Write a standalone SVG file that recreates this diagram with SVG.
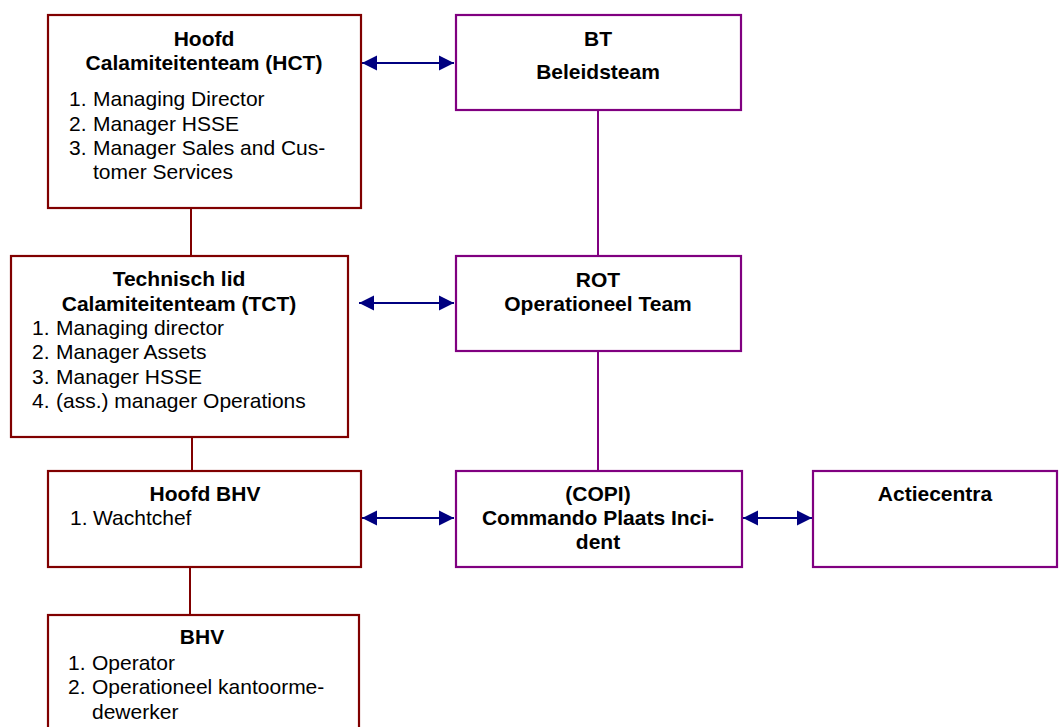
<svg xmlns="http://www.w3.org/2000/svg" width="1059" height="727" viewBox="0 0 1059 727">
<defs>
<marker id="ah" viewBox="0 0 10 10" refX="10" refY="5" markerWidth="7" markerHeight="7" markerUnits="strokeWidth" orient="auto-start-reverse" preserveAspectRatio="none">
<path d="M0,0 L10,5 L0,10 z" fill="#000080"/>
</marker>
</defs>
<style>
.r{fill:#fff;stroke:#800000;stroke-width:2.2}
.p{fill:#fff;stroke:#800080;stroke-width:2.2}
.lr{stroke:#800000;stroke-width:2;fill:none}
.lp{stroke:#800080;stroke-width:2;fill:none}
.ar{stroke:#000080;stroke-width:2.2;fill:none;marker-start:url(#ah);marker-end:url(#ah)}
text{font-family:"Liberation Sans",Arial,sans-serif;font-size:21px;fill:#000}
.b{font-weight:bold;text-anchor:middle}
</style>
<rect width="1059" height="727" fill="#fff"/>
<g id="connectors">
<line class="lr" x1="191" y1="208" x2="191" y2="256"/>
<line class="lr" x1="192" y1="437" x2="192" y2="471"/>
<line class="lr" x1="190" y1="567" x2="190" y2="615"/>
<line class="lp" x1="598" y1="110" x2="598" y2="256"/>
<line class="lp" x1="598" y1="351" x2="598" y2="471"/>
<line class="ar" x1="362" y1="63" x2="454" y2="63"/>
<line class="ar" x1="359" y1="303" x2="454" y2="303"/>
<line class="ar" x1="362" y1="518" x2="454" y2="518"/>
<line class="ar" x1="743" y1="518" x2="812" y2="518"/>
</g>
<g id="hct">
<rect class="r" x="48" y="15" width="313" height="193"/>
<text class="b" x="204" y="46">Hoofd</text>
<text class="b" x="204" y="70">Calamiteitenteam (HCT)</text>
<text x="69" y="106">1.</text><text x="93" y="106">Managing Director</text>
<text x="69" y="131">2.</text><text x="93" y="131">Manager HSSE</text>
<text x="69" y="155">3.</text><text x="93" y="155">Manager Sales and Cus-</text>
<text x="93" y="179">tomer Services</text>
</g>
<g id="bt">
<rect class="p" x="456" y="15" width="285" height="95"/>
<text class="b" x="598" y="46">BT</text>
<text class="b" x="598" y="79">Beleidsteam</text>
</g>
<g id="tct">
<rect class="r" x="11" y="256" width="337" height="181"/>
<text class="b" x="179" y="286">Technisch lid</text>
<text class="b" x="179" y="311">Calamiteitenteam (TCT)</text>
<text x="32" y="335">1.</text><text x="56" y="335">Managing director</text>
<text x="32" y="359">2.</text><text x="56" y="359">Manager Assets</text>
<text x="32" y="384">3.</text><text x="56" y="384">Manager HSSE</text>
<text x="32" y="408">4.</text><text x="56" y="408">(ass.) manager Operations</text>
</g>
<g id="rot">
<rect class="p" x="456" y="256" width="285" height="95"/>
<text class="b" x="598" y="287">ROT</text>
<text class="b" x="598" y="311">Operationeel Team</text>
</g>
<g id="hoofdbhv">
<rect class="r" x="48" y="471" width="313" height="96"/>
<text class="b" x="205" y="501">Hoofd BHV</text>
<text x="70" y="525">1.</text><text x="93" y="525">Wachtchef</text>
</g>
<g id="copi">
<rect class="p" x="456" y="471" width="286" height="96"/>
<text class="b" x="598" y="501">(COPI)</text>
<text class="b" x="598" y="525">Commando Plaats Inci-</text>
<text class="b" x="598" y="549">dent</text>
</g>
<g id="actiecentra">
<rect class="p" x="813" y="471" width="244" height="96"/>
<text class="b" x="935" y="501">Actiecentra</text>
</g>
<g id="bhv">
<rect class="r" x="48" y="615" width="311" height="120"/>
<text class="b" x="202" y="644">BHV</text>
<text x="68" y="670">1.</text><text x="92" y="670">Operator</text>
<text x="68" y="694">2.</text><text x="92" y="694">Operationeel kantoorme-</text>
<text x="92" y="719">dewerker</text>
</g>
</svg>
